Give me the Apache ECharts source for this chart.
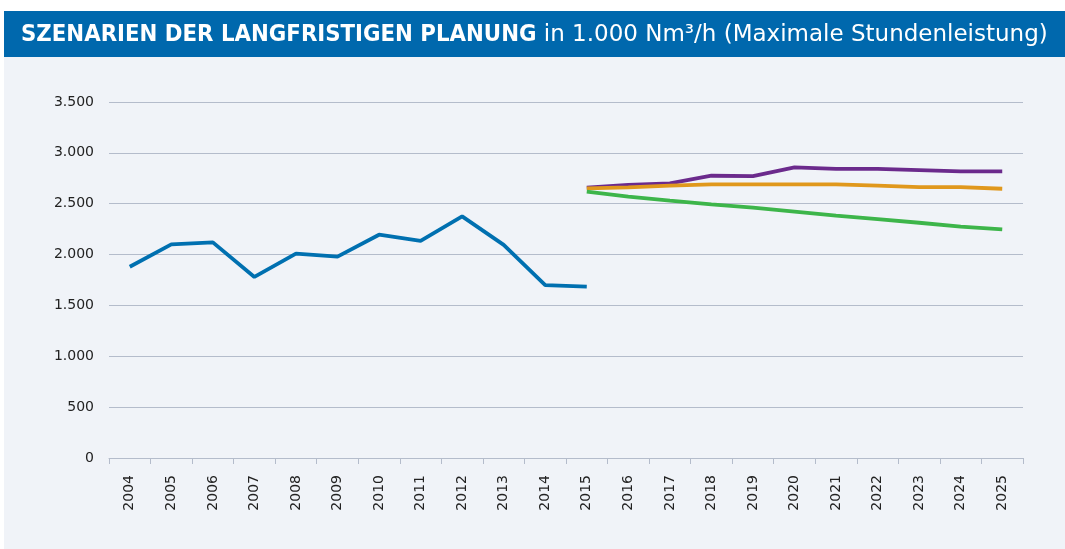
<!DOCTYPE html>
<html lang="de">
<head>
    <meta charset="UTF-8">
    <title>Szenarien der langfristigen Planung</title>
    <script src="https://cdn.jsdelivr.net/npm/echarts@6/dist/echarts.min.js"></script>
    <style>
        html, body { margin: 0; padding: 0; background: #fff; }
        #chart { width: 1065px; height: 549px; }
    </style>
</head>
<body>
<div id="chart"></div>
<script>
    // Jahre und Werte (1.000 Nm³/h)
    const years = ['2004', '2005', '2006', '2007', '2008', '2009', '2010', '2011', '2012', '2013', '2014',
        '2015', '2016', '2017', '2018', '2019', '2020', '2021', '2022', '2023', '2024', '2025'];
    const ist = [1880, 2100, 2120, 1780, 2010, 1980, 2195, 2135, 2375, 2095, 1700, 1685,
        null, null, null, null, null, null, null, null, null, null];
    const szenarioHoch = [null, null, null, null, null, null, null, null, null, null, null,
        2657, 2684, 2700, 2775, 2772, 2858, 2843, 2843, 2831, 2818, 2818];
    const szenarioMittel = [null, null, null, null, null, null, null, null, null, null, null,
        2651, 2661, 2677, 2690, 2690, 2690, 2690, 2677, 2663, 2663, 2647];
    const szenarioNiedrig = [null, null, null, null, null, null, null, null, null, null, null,
        2618, 2569, 2530, 2494, 2461, 2422, 2382, 2349, 2313, 2274, 2248];

    const fmt = v => String(v).replace(/\B(?=(\d{3})+(?!\d))/g, '.');

    const chart = echarts.init(document.getElementById('chart'));

    const mkLine = (name, data, color) => ({
        name: name,
        type: 'line',
        data: data,
        symbol: 'none',
        connectNulls: false,
        lineStyle: { color: color, width: 3.8 },
        itemStyle: { color: color }
    });

    chart.setOption({
        backgroundColor: '#ffffff',
        animation: false,
        graphic: [
            { type: 'rect', shape: { x: 4, y: 57, width: 1061, height: 492 }, style: { fill: '#f0f3f8' }, z: -10 },
            { type: 'rect', shape: { x: 4, y: 11, width: 1061, height: 46 }, style: { fill: '#0068ad' }, z: -10 },
            {
                type: 'text', left: 21, top: 23,
                style: {
                    text: '{b|SZENARIEN DER LANGFRISTIGEN PLANUNG}{n| in 1.000 Nm³/h (Maximale Stundenleistung)}',
                    rich: {
                        b: { fill: '#fff', fontSize: 23.7, fontWeight: 'bold', fontFamily: '"DejaVu Sans Condensed", sans-serif' },
                        n: { fill: '#fff', fontSize: 23, fontFamily: '"DejaVu Sans", sans-serif' }
                    }
                }
            }
        ],
        grid: { left: 109, right: 42, top: 102, bottom: 91 },
        xAxis: {
            type: 'category',
            data: years,
            boundaryGap: true,
            axisLine: { lineStyle: { color: '#b4bccb', width: 1 } },
            axisTick: { show: true, length: 6, lineStyle: { color: '#b4bccb' } },
            axisLabel: { rotate: 90, color: '#222', fontSize: 14, margin: 17, fontFamily: '"DejaVu Sans", sans-serif' }
        },
        yAxis: {
            type: 'value',
            min: 0,
            max: 3500,
            interval: 500,
            axisLine: { show: false },
            axisTick: { show: false },
            splitLine: { lineStyle: { color: '#b4bccb', width: 1 } },
            axisLabel: { color: '#222', fontSize: 14, margin: 15, formatter: fmt, fontFamily: '"DejaVu Sans", sans-serif' }
        },
        series: [
            mkLine('Ist', ist, '#0070b0'),
            mkLine('Szenario hoch', szenarioHoch, '#6b2a8c'),
            mkLine('Szenario mittel', szenarioMittel, '#e0981c'),
            mkLine('Szenario niedrig', szenarioNiedrig, '#3db54a')
        ]
    });
</script>
</body>
</html>
